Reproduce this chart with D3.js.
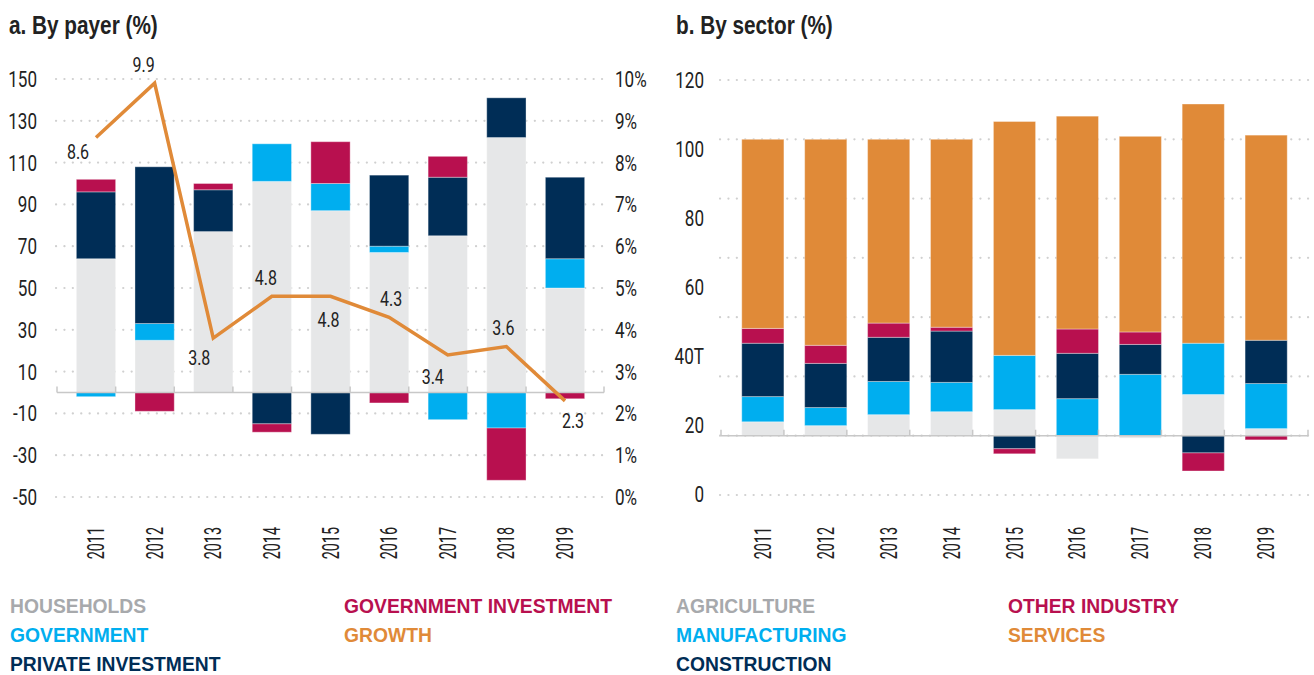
<!DOCTYPE html>
<html>
<head>
<meta charset="utf-8">
<script src="https://d3js.org/d3.v7.min.js"></script>
<style>
  body { margin: 0; background: #fff; }
  svg text { font-family: Roboto, "Liberation Sans", sans-serif; }
  svg text.heavy { font-family: "Liberation Sans", Arial, sans-serif; font-weight: bold; }
</style>
</head>
<body>
<svg id="chart" width="1314" height="675"></svg>
<script>
// ---- data ----
var years = ["2011","2012","2013","2014","2015","2016","2017","2018","2019"];

// a. by payer (%)
var households = [64, 25, 77, 101, 87, 67, 75, 122, 50];
var government = [-2, 8, 0, 18, 13, 3, -13, -17, 14];
var privateInvestment = [32, 75, 20, -15, -20, 34, 28, 19, 39];
var governmentInvestment = [6, -9, 3, -4, 20, -5, 10, -25, -3];
var growth = [8.6, 9.9, 3.8, 4.8, 4.8, 4.3, 3.4, 3.6, 2.3];

// b. by sector (%)
var agriculture = [4.7, 3.4, 7.1, 8.1, 8.8, -7.8, -0.8, 13.9, 2.4];
var manufacturing = [8.5, 6.1, 11.2, 9.9, 18.3, 12.5, 20.7, 17.3, 15.2];
var construction = [18, 14.9, 14.9, 17.3, -4.4, 15.3, 10.1, -5.8, 14.6];
var otherIndustry = [5, 6.1, 4.8, 1.3, -1.7, 8.2, 4.2, -6.1, -1.4];
var services = [63.8, 69.5, 62, 63.4, 78.9, 71.8, 66, 80.7, 69.2];

var payerTicks = [-50, -30, -10, 10, 30, 50, 70, 90, 110, 130, 150];
var growthTicks = [0, 1, 2, 3, 4, 5, 6, 7, 8, 9, 10];
var sectorGrid = [-20, 0, 20, 40, 60, 80, 100, 120];
var sectorTickLabels = ["0", "20", "40T", "60", "80", "100", "120"];

var colors = {
  gray: "#E6E7E8", cyan: "#00AEEF", navy: "#002D56", crimson: "#B8104F", orange: "#E08A38"
};

var svg = d3.select("#chart");

// text squeezed horizontally to look like the condensed face of the original
function putText(g, data, pos, sx, rot) {
  return g.selectAll(null).data(data).enter().append("text")
    .attr("transform", function(d, i) {
      var p = pos(d, i);
      return "translate(" + p[0] + "," + p[1] + ")" + (rot ? " rotate(" + rot + ")" : "") + " scale(" + sx + ",1)";
    });
}

function stackRows(series) {
  // diverging stack: positives upward from 0, negatives downward
  var rects = [];
  years.forEach(function(yr, i) {
    var pos = 0, neg = 0;
    series.forEach(function(s) {
      var v = s.values[i];
      if (v >= 0) { rects.push({year: yr, y0: pos, y1: pos + v, color: s.color}); pos += v; }
      else { rects.push({year: yr, y0: neg + v, y1: neg, color: s.color}); neg += v; }
    });
  });
  return rects.filter(function(r) { return r.y1 !== r.y0; });
}

function dottedGrid(g, vals, y, x0, x1) {
  g.selectAll("line.grid").data(vals).enter().append("line")
    .attr("class", "grid")
    .attr("x1", x0).attr("x2", x1)
    .attr("y1", function(d) { return y(d); }).attr("y2", function(d) { return y(d); })
    .attr("stroke", "#d0d0d0").attr("stroke-width", 2.2)
    .attr("stroke-linecap", "round")
    .attr("stroke-dasharray", "0.1,8.3");
}

function baseline(g, x, yZero) {
  var r = x.range();
  g.append("line").attr("x1", r[0]).attr("x2", r[1]).attr("y1", yZero).attr("y2", yZero)
    .attr("stroke", "#c8c8c8").attr("stroke-width", 1.5);
  var edges = years.map(function(d, i) { return r[0] + i * x.step(); });
  edges.push(r[1]);
  g.selectAll("line.tk").data(edges).enter().append("line")
    .attr("x1", function(d) { return d; }).attr("x2", function(d) { return d; })
    .attr("y1", yZero).attr("y2", yZero - 6)
    .attr("stroke", "#c8c8c8").attr("stroke-width", 1.5);
}

function yearLabels(g, x, yTop) {
  putText(g, years, function(d) { return [x(d) + x.bandwidth() / 2 + 8, yTop]; }, 0.6, -90)
    .attr("text-anchor", "end")
    .attr("font-size", 24).attr("fill", "#222")
    .text(function(d) { return d; });
}

function bars(g, rects, x, y) {
  g.selectAll("rect.bar").data(rects).enter().append("rect")
    .attr("x", function(d) { return x(d.year); })
    .attr("width", x.bandwidth())
    .attr("y", function(d) { return y(d.y1); })
    .attr("height", function(d) { return y(d.y0) - y(d.y1); })
    .attr("fill", function(d) { return d.color; })
    .attr("stroke", "rgba(255,255,255,0.35)").attr("stroke-width", 1);
}

// ---------- a. By payer ----------
var gA = svg.append("g");
var xA = d3.scaleBand().domain(years).range([57, 604]).padding(0.33);
var yA = d3.scaleLinear().domain([-50, 150]).range([497, 79]);
var yG = d3.scaleLinear().domain([0, 10]).range([497, 79]);

putText(gA, ["a. By payer (%)"], function() { return [9, 34]; }, 0.83)
  .attr("class", "heavy").attr("font-size", 25).attr("fill", "#222")
  .text(function(d) { return d; });

dottedGrid(gA, payerTicks, yA, 56, 608);

bars(gA, stackRows([
  {values: households, color: colors.gray},
  {values: government, color: colors.cyan},
  {values: privateInvestment, color: colors.navy},
  {values: governmentInvestment, color: colors.crimson}
]), xA, yA);

baseline(gA, xA, yA(0));

// left axis labels
putText(gA, payerTicks, function(d) { return [37, yA(d) + 8]; }, 0.76)
  .attr("text-anchor", "end").attr("font-size", 22.5).attr("fill", "#222")
  .text(function(d) { return d; });

// right axis labels
putText(gA, growthTicks, function(d) { return [615, yG(d) + 8]; }, 0.76)
  .attr("text-anchor", "start").attr("font-size", 22.5).attr("fill", "#222")
  .text(function(d) { return d + "%"; });

// growth line
var line = d3.line()
  .x(function(d, i) { return xA(years[i]) + xA.bandwidth() / 2; })
  .y(function(d) { return yG(d); });
gA.append("path").datum(growth)
  .attr("fill", "none").attr("stroke", colors.orange).attr("stroke-width", 3.5)
  .attr("d", line);

// growth labels: dx, dy offsets relative to the point
var growthLabelPos = [[-18, 21], [-11, -11], [-14, 27], [-6, -11], [-2, 31], [2, -11], [-15, 29], [-3, -12], [8, 27]];
putText(gA, growth, function(d, i) {
    return [xA(years[i]) + xA.bandwidth() / 2 + growthLabelPos[i][0], yG(d) + growthLabelPos[i][1]];
  }, 0.8)
  .attr("text-anchor", "middle").attr("font-size", 20).attr("fill", "#222")
  .text(function(d) { return d.toFixed(1); });

yearLabels(gA, xA, 527);

// ---------- b. By sector ----------
var gB = svg.append("g");
var xB = d3.scaleBand().domain(years).range([721, 1308]).padding(0.33);
var yB = d3.scaleLinear().domain([-20, 120]).range([495, 80]);
var yLab = d3.scaleLinear().domain([0, 120]).range([494, 80]);

putText(gB, ["b. By sector (%)"], function() { return [676, 34]; }, 0.83)
  .attr("class", "heavy").attr("font-size", 25).attr("fill", "#222")
  .text(function(d) { return d; });

dottedGrid(gB, sectorGrid, yB, 720, 1312);

bars(gB, stackRows([
  {values: agriculture, color: colors.gray},
  {values: manufacturing, color: colors.cyan},
  {values: construction, color: colors.navy},
  {values: otherIndustry, color: colors.crimson},
  {values: services, color: colors.orange}
]), xB, yB);

baseline(gB, xB, yB(0));

putText(gB, sectorTickLabels, function(d, i) { return [704, yLab(i * 20) + 8]; }, 0.76)
  .attr("text-anchor", "end").attr("font-size", 22.5).attr("fill", "#222")
  .text(function(d) { return d; });

yearLabels(gB, xB, 527);

// ---------- legends ----------
var legendItems = [
  {label: "HOUSEHOLDS", color: "#A7A9AC", x: 10, y: 613},
  {label: "GOVERNMENT", color: colors.cyan, x: 10, y: 642},
  {label: "PRIVATE INVESTMENT", color: colors.navy, x: 10, y: 671},
  {label: "GOVERNMENT INVESTMENT", color: colors.crimson, x: 344, y: 613},
  {label: "GROWTH", color: colors.orange, x: 344, y: 642},
  {label: "AGRICULTURE", color: "#A7A9AC", x: 676, y: 613},
  {label: "MANUFACTURING", color: colors.cyan, x: 676, y: 642},
  {label: "CONSTRUCTION", color: colors.navy, x: 676, y: 671},
  {label: "OTHER INDUSTRY", color: colors.crimson, x: 1008, y: 613},
  {label: "SERVICES", color: colors.orange, x: 1008, y: 642}
];

putText(svg, legendItems, function(d) { return [d.x, d.y]; }, 0.92)
  .attr("class", "heavy").attr("font-size", 21)
  .attr("fill", function(d) { return d.color; })
  .text(function(d) { return d.label; });
</script>
</body>
</html>
